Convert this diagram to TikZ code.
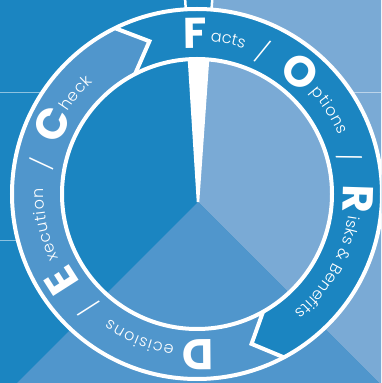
\documentclass[tikz,border=0pt]{standalone}
\usepackage{fontspec}
\newfontfamily\popb{Poppins}
\newfontfamily\popl{Poppins Light}
\usetikzlibrary{decorations.text}
\definecolor{dkb}{RGB}{27,133,193}
\definecolor{ltb}{RGB}{122,170,213}
\definecolor{mdb}{RGB}{80,150,204}
\tikzset{
 bigl/.style={font=\popb\bfseries\fontsize{43}{43}\selectfont, text=white, inner sep=0pt, anchor=base},
 slash/.style={font=\popl\fontsize{23}{23}\selectfont, text=white, inner sep=0pt},
 ringline/.style={draw=white, line width=4pt},
 bgline/.style={draw=white, draw opacity=0.5, line width=1pt},
}
\newcommand{\arcword}[4]{%
 \path[decorate, decoration={text along path, text color=white,
   text={|\popl\fontsize{16}{16}\selectfont|#4}, text align={fit to path}}]
   (#2:#1) arc[start angle=#2, end angle=#3, radius=#1];}
\begin{document}
\begin{tikzpicture}[x=1pt,y=1pt]
\useasboundingbox (0,0) rectangle (381,383);
\clip (0,0) rectangle (381,383);
% background
\fill[dkb] (0,0) rectangle (381,383);
\coordinate (A) at (198,181);
\fill[ltb] (198,386) -- (385,386) -- (385,-6) -- (A) -- cycle;
\fill[mdb] (A) -- ++(-187,-187) -- ++(374,0) -- cycle;
\draw[bgline] (0,290) -- (45,290);
\draw[bgline] (0,142) -- (25,142);
\draw[bgline] (345,290) -- (381,290);
% pointer wedge
\coordinate (T) at (198,181);
\filldraw[fill=dkb, draw=white, line width=2.5pt] (T) -- (185,386) -- (212.4,386) -- cycle;
\begin{scope}
 \clip (197,189) circle[radius=135];
 \fill[white] (T) -- (185,386) -- (212.4,386) -- cycle;
\end{scope}
% ring
\begin{scope}[shift={(197,189)}]
 \fill[dkb, even odd rule] (0,0) circle[radius=185] (0,0) circle[radius=135];
 \fill[mdb] (-62:185) arc[start angle=-62, end angle=-243.7, radius=185]
   -- (107.3:160) -- (117.3:135) arc[start angle=117.3, end angle=299.3, radius=135]
   -- (-70:159.5) -- cycle;
 \draw[ringline] (0,0) circle[radius=185];
 \draw[ringline] (0,0) circle[radius=135];
 \draw[ringline, line join=miter] (-62:185) -- (-70:159.5) -- (-60.7:135);
 \draw[ringline, line join=miter] (116.3:185) -- (107.3:160) -- (117.3:135);
 % words
 \arcword{153}{85}{73}{acts}
 \arcword{153}{42}{22.5}{ptions}
 \arcword{153}{-8.2}{-50.4}{isks {\&} Benefits}
 \arcword{153}{-98.5}{-125}{ecisions}
 \arcword{153}{-155}{-182}{xecution}
 \arcword{153}{147.5}{133}{heck}
 % initials
 \node[bigl, rotate=0.7] (F) at (90.7:146) {F};
 \node[bigl, rotate=-40] (O) at (50:145) {O};
 \node[bigl, rotate=-91.8] (R) at (-1.8:146) {R};
 \node[bigl, rotate=-179.6] (D) at (-89.6:146) {D};
 \node[bigl, rotate=-237.5] (E) at (-147.5:146) {E};
 \node[bigl, rotate=64.4] (Cc) at (154.4:146) {C};
 % separators
 \node[slash, rotate=-25] (s1) at (65:157) {/};
 \node[slash, rotate=-76.7] (s2) at (13.3:157) {/};
 \node[slash, rotate=-223.4] (s3) at (-133.4:157) {/};
 \node[slash, rotate=79] (s4) at (169:158) {/};
\end{scope}
\end{tikzpicture}
\end{document}
